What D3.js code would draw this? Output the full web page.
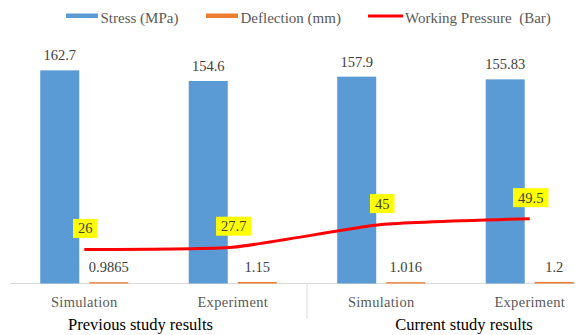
<!DOCTYPE html>
<html>
<head>
<meta charset="utf-8">
<script src="https://cdn.jsdelivr.net/npm/d3@7"></script>
<style>
  html, body { margin: 0; padding: 0; background: #fff; }
  svg text { font-family: "Liberation Serif", "Times New Roman", serif; }
</style>
</head>
<body>
<svg id="chart" width="575" height="335"></svg>
<script>
// Category and group labels
const categories = ["Simulation", "Experiment", "Simulation", "Experiment"];
const groups = ["Previous study results", "Current study results"];

// Series values
const stress = [162.7, 154.6, 157.9, 155.83];      // MPa
const deflection = [0.9865, 1.15, 1.016, 1.2];     // mm
const pressure = [26, 27.7, 45, 49.5];             // Bar

const seriesNames = ["Stress (MPa)", "Deflection (mm)", "Working Pressure  (Bar)"];

const colors = { stress: "#5B9BD5", deflection: "#ED7D31", pressure: "#FF0000" };
const FONT = "'Liberation Serif', 'Times New Roman', serif";

const svg = d3.select("#chart");
const W = 575, H = 335;
svg.append("rect").attr("width", W).attr("height", H).attr("fill", "#fff");

const baseY = 283.5;
const idx = d3.range(categories.length);

// Category bands: the plot runs past the right edge and is clipped by the svg
const x0 = d3.scaleBand().domain(idx).range([10, 604])
  .paddingInner(0.407).paddingOuter(0.2037);
const x1 = d3.scaleBand().domain(["stress", "deflection"]).range([0, x0.bandwidth()])
  .paddingInner(0.204).paddingOuter(0);
const y = d3.scaleLinear().domain([0, 200]).range([baseY, baseY - 262]);

const center = i => x0(i) + x0.bandwidth() / 2;
const step = x0.step();

// Category axis baseline
svg.append("line")
  .attr("x1", x0.range()[0]).attr("x2", x0.range()[1])
  .attr("y1", baseY).attr("y2", baseY)
  .attr("stroke", "#D9D9D9").attr("stroke-width", 1);

// Separator between the two groups
svg.append("line")
  .attr("x1", center(1) + step / 2).attr("x2", center(1) + step / 2)
  .attr("y1", baseY).attr("y2", baseY + 35)
  .attr("stroke", "#D9D9D9").attr("stroke-width", 1);

// Bars
const barData = idx.flatMap(i => [
  { i, key: "stress", v: stress[i] },
  { i, key: "deflection", v: deflection[i] }
]);

svg.append("g").selectAll("rect").data(barData).join("rect")
  .attr("x", d => x0(d.i) + x1(d.key))
  .attr("width", x1.bandwidth())
  .attr("y", d => y(d.v))
  .attr("height", d => Math.max(1, baseY - y(d.v)))
  .attr("fill", d => colors[d.key]);

// Bar value labels
svg.append("g").selectAll("text").data(barData).join("text")
  .attr("x", d => x0(d.i) + x1(d.key) + x1.bandwidth() / 2)
  .attr("y", d => y(d.v) - 10)
  .attr("text-anchor", "middle")
  .attr("font-family", FONT)
  .attr("font-size", 14.5)
  .attr("fill", "#404040")
  .text(d => String(d.v));

// Working pressure line
const line = d3.line()
  .x((d, i) => center(i))
  .y(d => y(d))
  .curve(d3.curveCardinal.tension(0.5));

svg.append("path")
  .datum(pressure)
  .attr("d", line)
  .attr("fill", "none")
  .attr("stroke", colors.pressure)
  .attr("stroke-width", 3)
  .attr("stroke-linecap", "butt");

// Highlighted pressure labels
const pl = svg.append("g").selectAll("g").data(pressure).join("g")
  .attr("transform", (d, i) => `translate(${center(i) + 1},${y(d) - 21})`);
pl.append("text")
  .attr("text-anchor", "middle")
  .attr("y", 5)
  .attr("font-family", FONT)
  .attr("font-size", 14.5)
  .attr("fill", "#404040")
  .text(d => String(d));
pl.each(function () {
  const g = d3.select(this);
  const bb = g.select("text").node().getBBox();
  g.insert("rect", "text")
    .attr("x", bb.x - 5).attr("width", bb.width + 10)
    .attr("y", -9.5).attr("height", 19)
    .attr("fill", "#FFFF00");
});

// Category labels
svg.append("g").selectAll("text").data(idx).join("text")
  .attr("x", i => center(i))
  .attr("y", 307)
  .attr("text-anchor", "middle")
  .attr("font-family", FONT)
  .attr("font-size", 14.5)
  .attr("letter-spacing", 0.3)
  .attr("fill", "#595959")
  .text(i => categories[i]);

// Group labels
const groupX = [140.5, 464];
svg.append("g").selectAll("text").data(groups).join("text")
  .attr("x", (d, i) => groupX[i])
  .attr("y", 330)
  .attr("text-anchor", "middle")
  .attr("font-family", FONT)
  .attr("font-size", 16.5)
  .attr("fill", "#000")
  .text(d => d);

// Legend
const legend = svg.append("g");
const legendItems = [
  { name: seriesNames[0], type: "rect", color: colors.stress, x: 66 },
  { name: seriesNames[1], type: "rect", color: colors.deflection, x: 206 },
  { name: seriesNames[2], type: "line", color: colors.pressure, x: 368 }
];
legendItems.forEach(it => {
  if (it.type === "rect") {
    legend.append("rect").attr("x", it.x).attr("y", 13.5).attr("width", 32).attr("height", 4.5)
      .attr("fill", it.color);
  } else {
    legend.append("line").attr("x1", it.x).attr("x2", it.x + 35)
      .attr("y1", 16).attr("y2", 16)
      .attr("stroke", it.color).attr("stroke-width", 3);
  }
  legend.append("text")
    .attr("x", it.x + (it.type === "rect" ? 34.5 : 37))
    .attr("y", 23)
    .attr("font-family", FONT)
    .attr("font-size", 15)
    .attr("fill", "#595959")
    .style("white-space", "pre")
    .text(it.name);
});
</script>
</body>
</html>
